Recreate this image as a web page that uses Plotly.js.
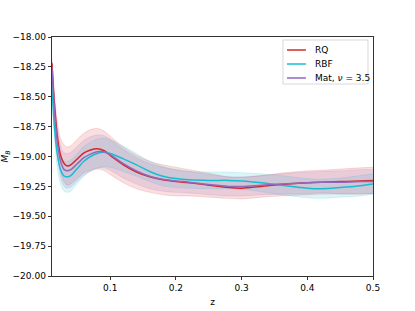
<!DOCTYPE html>
<html>
<head>
<meta charset="utf-8">
<script src="https://cdn.plot.ly/plotly-3.0.1.min.js"></script>
<style>html,body{margin:0;padding:0;background:#fff;}#chart{width:415px;height:311px;}</style>
</head>
<body>
<div id="chart"></div>
<script>
const z = [0.0114,0.015,0.02,0.025,0.03,0.035,0.04,0.05,0.06,0.07,0.08,0.09,0.10,0.12,0.14,0.16,0.18,0.20,0.22,0.25,0.28,0.30,0.33,0.36,0.40,0.42,0.45,0.48,0.50];
const rqMean = [-18.22,-18.55,-18.85,-19.00,-19.06,-19.08,-19.07,-19.02,-18.97,-18.945,-18.935,-18.95,-18.99,-19.07,-19.13,-19.17,-19.195,-19.21,-19.22,-19.24,-19.26,-19.265,-19.25,-19.235,-19.22,-19.215,-19.21,-19.205,-19.20];
const rbfMean = [-18.40,-18.75,-19.00,-19.12,-19.165,-19.17,-19.16,-19.10,-19.04,-19.00,-18.975,-18.965,-18.975,-19.02,-19.07,-19.125,-19.165,-19.185,-19.195,-19.20,-19.20,-19.205,-19.22,-19.24,-19.265,-19.27,-19.26,-19.245,-19.23];
const matMean = [-18.25,-18.60,-18.90,-19.05,-19.11,-19.12,-19.11,-19.06,-19.01,-18.98,-18.96,-18.96,-18.985,-19.06,-19.12,-19.165,-19.19,-19.205,-19.215,-19.235,-19.25,-19.25,-19.24,-19.23,-19.22,-19.215,-19.215,-19.21,-19.21];
const rqSd = [0.04,0.08,0.12,0.14,0.155,0.16,0.16,0.165,0.165,0.17,0.17,0.165,0.16,0.15,0.14,0.13,0.125,0.12,0.11,0.10,0.09,0.09,0.09,0.095,0.10,0.10,0.105,0.11,0.11];
const rbfSd = [0.05,0.08,0.11,0.12,0.125,0.13,0.13,0.125,0.125,0.12,0.12,0.12,0.115,0.105,0.095,0.085,0.08,0.075,0.07,0.07,0.07,0.07,0.075,0.08,0.08,0.08,0.08,0.085,0.085];
const matSd = [0.045,0.08,0.115,0.13,0.14,0.145,0.145,0.145,0.145,0.145,0.14,0.135,0.13,0.12,0.11,0.105,0.10,0.095,0.09,0.085,0.08,0.08,0.08,0.085,0.09,0.09,0.095,0.10,0.10];
const yTicks = [-20.00,-19.75,-19.50,-19.25,-19.00,-18.75,-18.50,-18.25,-18.00];
const xTicks = [0.1,0.2,0.3,0.4,0.5];
const legendLabels = ['RQ','RBF','Mat, <i>ν</i> = 3.5'];

const series = [
  {name:legendLabels[0], mean:rqMean, sd:rqSd, color:'#d62728', rgb:'214,39,40'},
  {name:legendLabels[1], mean:rbfMean, sd:rbfSd, color:'#17becf', rgb:'23,190,207'},
  {name:legendLabels[2], mean:matMean, sd:matSd, color:'#9467bd', rgb:'148,103,189'}
];

const traces = [];
series.forEach(s => {
  const up = s.mean.map((m,i)=>m+s.sd[i]);
  const lo = s.mean.map((m,i)=>m-s.sd[i]);
  traces.push({x:z, y:up, mode:'lines', line:{width:0.6, color:'rgba('+s.rgb+',0.25)', shape:'spline'}, showlegend:false, hoverinfo:'skip'});
  traces.push({x:z, y:lo, mode:'lines', fill:'tonexty', fillcolor:'rgba('+s.rgb+',0.15)', line:{width:0.6, color:'rgba('+s.rgb+',0.25)', shape:'spline'}, showlegend:false, hoverinfo:'skip'});
});
series.forEach(s => {
  traces.push({x:z, y:s.mean, mode:'lines', name:s.name, showlegend:false, line:{width:1.5, color:s.color, shape:'spline'}});
});

// custom legend (paper coordinates)
const shapes = [{type:'rect', xref:'paper', yref:'paper', x0:0.7196, x1:0.9844, y0:0.8033, y1:0.9874,
  line:{color:'#d9d9d9', width:1}, fillcolor:'rgba(255,255,255,0.8)', layer:'above'}];
const annotations = [];
const rowY = [0.9456, 0.8870, 0.8285];
series.forEach((s,i) => {
  shapes.push({type:'line', xref:'paper', yref:'paper', x0:0.732, x1:0.791, y0:rowY[i], y1:rowY[i], line:{color:s.color, width:1.5}, layer:'above'});
  annotations.push({xref:'paper', yref:'paper', x:0.812, y:rowY[i], xanchor:'left', yanchor:'middle', text:s.name, showarrow:false, font:{size:9, color:'#000'}});
});

const layout = {
  width:415, height:311,
  margin:{l:52, r:42, t:37, b:35},
  paper_bgcolor:'#fff', plot_bgcolor:'#fff',
  font:{family:'DejaVu Sans', size:9, color:'#000'},
  showlegend:false,
  shapes:shapes, annotations:annotations,
  xaxis:{range:[0.0114,0.5], tickvals:xTicks, ticktext:xTicks.map(v=>v.toFixed(1)), ticks:'outside', ticklen:3.5, tickwidth:0.8, tickcolor:'#000',
         showline:true, linecolor:'#000', linewidth:0.8, mirror:true, showgrid:false, zeroline:false,
         title:{text:'z', font:{size:9}, standoff:6}},
  yaxis:{range:[-20,-18], tickvals:yTicks, ticktext:yTicks.map(v=>(v<0?'\u2212':'')+Math.abs(v).toFixed(2)), ticks:'outside', ticklen:3.5, tickwidth:0.8, tickcolor:'#000',
         showline:true, linecolor:'#000', linewidth:0.8, mirror:true, showgrid:false, zeroline:false,
         title:{text:'<i>M</i><sub><i>B</i></sub>', font:{size:9}, standoff:4}}
};
Plotly.newPlot('chart', traces, layout, {displayModeBar:false, staticPlot:true});
</script>
</body>
</html>
